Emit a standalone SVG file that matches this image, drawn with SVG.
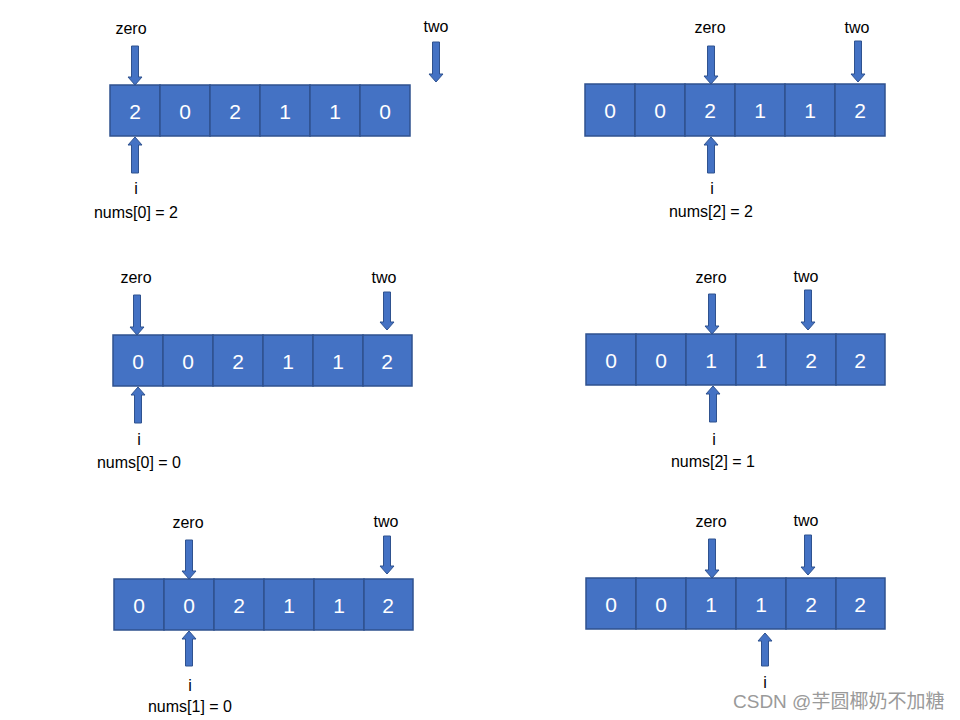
<svg xmlns="http://www.w3.org/2000/svg" width="960" height="720" viewBox="0 0 960 720">
<style>
.cell{fill:#4472C4;stroke:#2F528F;stroke-width:1.5}
.num{fill:#fff;font-family:"Liberation Sans",Arial,sans-serif;font-size:21px;text-anchor:middle;dominant-baseline:central}
.lbl{fill:#000;font-family:"Liberation Sans",Arial,sans-serif;font-size:16px;text-anchor:middle;dominant-baseline:central}
.ptr{fill:#4472C4;stroke:#2F528F;stroke-width:1}
.wm{fill:#9a9a9a;font-family:"Liberation Sans","Noto Sans CJK SC",sans-serif;font-size:19px;dominant-baseline:central}
</style>
<rect width="960" height="720" fill="#fff"/>

<g id="array1">
<rect class="cell" x="110" y="85" width="50" height="51"/><rect class="cell" x="160" y="85" width="50" height="51"/><rect class="cell" x="210" y="85" width="50" height="51"/><rect class="cell" x="260" y="85" width="50" height="51"/><rect class="cell" x="310" y="85" width="50" height="51"/><rect class="cell" x="360" y="85" width="50" height="51"/>
<text class="num" x="135" y="111">2</text><text class="num" x="185" y="111">0</text><text class="num" x="235" y="111">2</text><text class="num" x="285" y="111">1</text><text class="num" x="335" y="111">1</text><text class="num" x="385" y="111">0</text>
</g>
<g id="array2">
<rect class="cell" x="585" y="84" width="50" height="52"/><rect class="cell" x="635" y="84" width="50" height="52"/><rect class="cell" x="685" y="84" width="50" height="52"/><rect class="cell" x="735" y="84" width="50" height="52"/><rect class="cell" x="785" y="84" width="50" height="52"/><rect class="cell" x="835" y="84" width="50" height="52"/>
<text class="num" x="610" y="110">0</text><text class="num" x="660" y="110">0</text><text class="num" x="710" y="110">2</text><text class="num" x="760" y="110">1</text><text class="num" x="810" y="110">1</text><text class="num" x="860" y="110">2</text>
</g>
<g id="array3">
<rect class="cell" x="113" y="335" width="50" height="51"/><rect class="cell" x="163" y="335" width="50" height="51"/><rect class="cell" x="213" y="335" width="50" height="51"/><rect class="cell" x="263" y="335" width="50" height="51"/><rect class="cell" x="313" y="335" width="50" height="51"/><rect class="cell" x="363" y="335" width="49" height="51"/>
<text class="num" x="138" y="361">0</text><text class="num" x="188" y="361">0</text><text class="num" x="238" y="361">2</text><text class="num" x="288" y="361">1</text><text class="num" x="338" y="361">1</text><text class="num" x="387" y="361">2</text>
</g>
<g id="array4">
<rect class="cell" x="586" y="334" width="50" height="51"/><rect class="cell" x="636" y="334" width="50" height="51"/><rect class="cell" x="686" y="334" width="50" height="51"/><rect class="cell" x="736" y="334" width="50" height="51"/><rect class="cell" x="786" y="334" width="50" height="51"/><rect class="cell" x="836" y="334" width="49" height="51"/>
<text class="num" x="611" y="360">0</text><text class="num" x="661" y="360">0</text><text class="num" x="711" y="360">1</text><text class="num" x="761" y="360">1</text><text class="num" x="811" y="360">2</text><text class="num" x="860" y="360">2</text>
</g>
<g id="array5">
<rect class="cell" x="114" y="579" width="50" height="51"/><rect class="cell" x="164" y="579" width="50" height="51"/><rect class="cell" x="214" y="579" width="50" height="51"/><rect class="cell" x="264" y="579" width="50" height="51"/><rect class="cell" x="314" y="579" width="50" height="51"/><rect class="cell" x="364" y="579" width="49" height="51"/>
<text class="num" x="139" y="605">0</text><text class="num" x="189" y="605">0</text><text class="num" x="239" y="605">2</text><text class="num" x="289" y="605">1</text><text class="num" x="339" y="605">1</text><text class="num" x="388" y="605">2</text>
</g>
<g id="array6">
<rect class="cell" x="586" y="578" width="50" height="51"/><rect class="cell" x="636" y="578" width="50" height="51"/><rect class="cell" x="686" y="578" width="50" height="51"/><rect class="cell" x="736" y="578" width="50" height="51"/><rect class="cell" x="786" y="578" width="50" height="51"/><rect class="cell" x="836" y="578" width="49" height="51"/>
<text class="num" x="611" y="604">0</text><text class="num" x="661" y="604">0</text><text class="num" x="711" y="604">1</text><text class="num" x="761" y="604">1</text><text class="num" x="811" y="604">2</text><text class="num" x="860" y="604">2</text>
</g>

<g id="connectors">
<polygon class="ptr" points="131.5,46 138.5,46 138.5,77 142,77 135,85 128,77 131.5,77"/>
<polygon class="ptr" points="432.5,42 439.5,42 439.5,74 443,74 436,82 429,74 432.5,74"/>
<polygon class="ptr" points="131.5,173 138.5,173 138.5,145 142,145 135,137 128,145 131.5,145"/>
<polygon class="ptr" points="707.5,46 714.5,46 714.5,76 718,76 711,84 704,76 707.5,76"/>
<polygon class="ptr" points="854.5,41 861.5,41 861.5,74 865,74 858,82 851,74 854.5,74"/>
<polygon class="ptr" points="707.5,173 714.5,173 714.5,145 718,145 711,137 704,145 707.5,145"/>
<polygon class="ptr" points="133.5,295 140.5,295 140.5,327 144,327 137,335 130,327 133.5,327"/>
<polygon class="ptr" points="383.5,292 390.5,292 390.5,322 394,322 387,330 380,322 383.5,322"/>
<polygon class="ptr" points="134.5,423 141.5,423 141.5,395 145,395 138,387 131,395 134.5,395"/>
<polygon class="ptr" points="708.5,294 715.5,294 715.5,326 719,326 712,334 705,326 708.5,326"/>
<polygon class="ptr" points="804.5,290 811.5,290 811.5,322 815,322 808,330 801,322 804.5,322"/>
<polygon class="ptr" points="709.5,422 716.5,422 716.5,394 720,394 713,386 706,394 709.5,394"/>
<polygon class="ptr" points="185.5,540 192.5,540 192.5,571 196,571 189,579 182,571 185.5,571"/>
<polygon class="ptr" points="383.5,536 390.5,536 390.5,566 394,566 387,574 380,566 383.5,566"/>
<polygon class="ptr" points="185.5,666 192.5,666 192.5,639 196,639 189,631 182,639 185.5,639"/>
<polygon class="ptr" points="708.5,539 715.5,539 715.5,570 719,570 712,578 705,570 708.5,570"/>
<polygon class="ptr" points="804.5,535 811.5,535 811.5,567 815,567 808,575 801,567 804.5,567"/>
<polygon class="ptr" points="761.5,666 768.5,666 768.5,641 772,641 765,633 758,641 761.5,641"/>
</g>

<g id="labels">
<text class="lbl" x="131" y="28">zero</text>
<text class="lbl" x="436" y="26">two</text>
<text class="lbl" x="136" y="188">i</text>
<text class="lbl" x="136" y="212">nums[0] = 2</text>
<text class="lbl" x="710" y="27">zero</text>
<text class="lbl" x="857" y="27">two</text>
<text class="lbl" x="712" y="188">i</text>
<text class="lbl" x="711" y="211">nums[2] = 2</text>
<text class="lbl" x="136" y="277">zero</text>
<text class="lbl" x="384" y="277">two</text>
<text class="lbl" x="139" y="439">i</text>
<text class="lbl" x="139" y="462">nums[0] = 0</text>
<text class="lbl" x="711" y="277">zero</text>
<text class="lbl" x="806" y="276">two</text>
<text class="lbl" x="714" y="439">i</text>
<text class="lbl" x="713" y="461">nums[2] = 1</text>
<text class="lbl" x="188" y="522">zero</text>
<text class="lbl" x="386" y="521">two</text>
<text class="lbl" x="190" y="685">i</text>
<text class="lbl" x="190" y="706">nums[1] = 0</text>
<text class="lbl" x="711" y="521">zero</text>
<text class="lbl" x="806" y="520">two</text>
<text class="lbl" x="765" y="682">i</text>
</g>
<text class="wm" x="733" y="701">CSDN @芋圆椰奶不加糖</text>
</svg>
